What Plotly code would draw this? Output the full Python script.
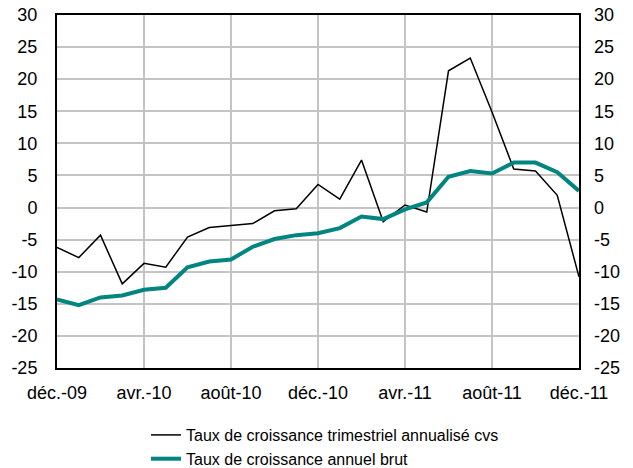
import plotly.graph_objects as go

months = ["déc.-09", "janv.-10", "févr.-10", "mars-10", "avr.-10", "mai-10", "juin-10",
          "juil.-10", "août-10", "sept.-10", "oct.-10", "nov.-10", "déc.-10", "janv.-11",
          "févr.-11", "mars-11", "avr.-11", "mai-11", "juin-11", "juil.-11", "août-11",
          "sept.-11", "oct.-11", "nov.-11", "déc.-11"]

trimestriel = [-6.2, -7.8, -4.3, -11.9, -8.7, -9.3, -4.6, -3.1, -2.8, -2.5, -0.5, -0.2,
               3.6, 1.3, 7.4, -2.2, 0.4, -0.7, 21.3, 23.3, 14.9, 6.0, 5.7, 1.9, -10.8]

annuel = [-14.3, -15.2, -14.0, -13.7, -12.8, -12.5, -9.3, -8.4, -8.1, -6.1, -4.9, -4.3,
          -4.0, -3.2, -1.4, -1.8, -0.3, 0.8, 4.8, 5.7, 5.3, 7.0, 7.0, 5.5, 2.6]

tick_labels = ["déc.-09", "avr.-10", "août-10", "déc.-10", "avr.-11", "août-11", "déc.-11"]
y_ticks = list(range(-25, 31, 5))
y_tick_text = [str(v) for v in y_ticks]
y_range = [-25, 30]

font = "Liberation Sans, Arial, sans-serif"

W, H = 633, 468

fig = go.Figure()
fig.add_trace(go.Scatter(x=months, y=trimestriel, mode="lines",
                         name="Taux de croissance trimestriel annualisé cvs",
                         line=dict(color="#000000", width=1.5)))
fig.add_trace(go.Scatter(x=months, y=annuel, mode="lines",
                         name="Taux de croissance annuel brut",
                         line=dict(color="#00857f", width=4)))
fig.add_trace(go.Scatter(x=months, y=annuel, yaxis="y2", mode="lines",
                         line=dict(width=0, color="rgba(0,0,0,0)"),
                         showlegend=False, hoverinfo="skip"))

fig.update_layout(
    template="none",
    width=W, height=H,
    margin=dict(l=57, r=54, t=15, b=100, autoexpand=False),
    paper_bgcolor="white", plot_bgcolor="white",
    font=dict(family=font, size=18, color="#000000"),
    showlegend=True,
    legend=dict(xref="container", yref="container", x=146 / W, y=1 - 418 / H,
                xanchor="left", yanchor="top",
                font=dict(size=16), tracegroupgap=0, itemwidth=30,
                bgcolor="rgba(0,0,0,0)", borderwidth=0),
    xaxis=dict(type="category", range=[0, 24], tickvals=tick_labels, ticktext=tick_labels,
               showgrid=True, gridcolor="#c4c4c4", gridwidth=2, automargin=False,
               showline=True, linecolor="#000000", linewidth=2, mirror=True,
               ticks="", ticklabelstandoff=7, zeroline=False),
    yaxis=dict(range=y_range, tickvals=y_ticks, ticktext=y_tick_text, showgrid=True,
               gridcolor="#c4c4c4", gridwidth=2, showline=True, linecolor="#000000",
               linewidth=2, mirror=True, ticks="", ticklabelstandoff=14, zeroline=False,
               automargin=False),
    yaxis2=dict(range=y_range, tickvals=y_ticks, ticktext=y_tick_text, overlaying="y",
                side="right", showgrid=False, showline=False, ticks="",
                ticklabelstandoff=14, zeroline=False, automargin=False),
)

fig.write_html("out.html",
               config={"displayModeBar": False},
               post_script="document.body.style.margin='0';document.body.style.overflow='hidden';")
